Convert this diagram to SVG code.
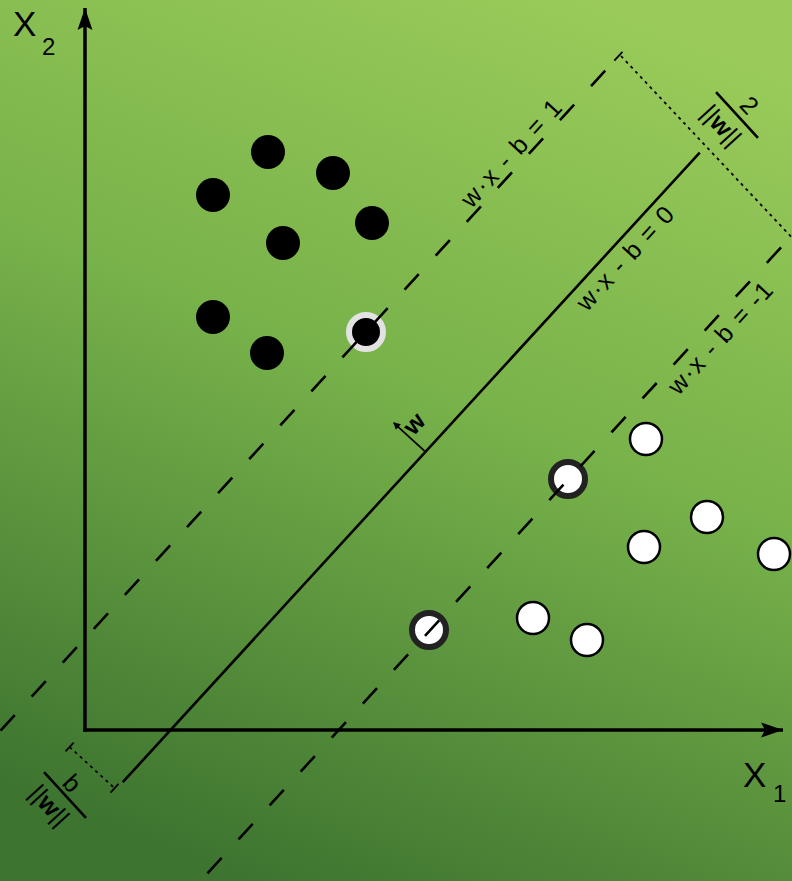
<svg xmlns="http://www.w3.org/2000/svg" width="792" height="881" viewBox="0 0 792 881">
<defs>
<linearGradient id="bg" gradientUnits="userSpaceOnUse" x1="600" y1="0" x2="250" y2="881">
<stop offset="0" stop-color="#9acb5a"/>
<stop offset="0.45" stop-color="#78b24a"/>
<stop offset="1" stop-color="#3d7430"/>
</linearGradient>
<marker id="axhead" markerUnits="userSpaceOnUse" markerWidth="30" markerHeight="20" refX="0" refY="0" viewBox="-24 -10 26 20" orient="auto">
<path d="M0,0 L-22,-7.5 L-18,0 L-22,7.5 Z" fill="#000"/>
</marker>
<marker id="whead" markerUnits="userSpaceOnUse" markerWidth="10" markerHeight="10" refX="0" refY="0" viewBox="-6 -4 7 8" orient="auto">
<path d="M0.5,0 L-5,-3 L-5,3 Z" fill="#000"/>
</marker>
</defs>
<style>
.axis{stroke:#000;stroke-width:3.5;fill:none}
.solid{stroke:#000;stroke-width:2.6;fill:none}
.dash{stroke:#000;stroke-width:2.6;stroke-dasharray:21 25;fill:none}
.dot{stroke:#000;stroke-width:1.8;stroke-dasharray:3 4;fill:none}
.tick{stroke:#000;stroke-width:1.8}
.bar{stroke:#000;stroke-width:2.6}
.txt{font-family:"Liberation Sans",Arial,sans-serif;fill:#000}
.lbl{font-size:25px}
.frac{font-size:25px}
.ax{font-size:35px}
.sub{font-size:24px}
.bdot{fill:#000}
.wdot{fill:#fff;stroke:#000;stroke-width:2.5}
.bsv{fill:#000;stroke:#e2e2e2;stroke-width:6}
.wsv{fill:#fff;stroke:#222;stroke-width:6}
</style>
<rect width="792" height="881" fill="url(#bg)"/>

<g id="axes">
<line class="axis" x1="85" y1="731.7" x2="85" y2="8" marker-end="url(#axhead)"/>
<line class="axis" x1="83.3" y1="730" x2="783" y2="730" marker-end="url(#axhead)"/>
<text class="txt ax" x="13" y="36">X</text>
<text class="txt sub" x="42" y="55">2</text>
<text class="txt ax" x="743" y="787">X</text>
<text class="txt sub" x="773" y="802">1</text>
</g>

<g id="class-black">
<circle class="bdot" cx="268" cy="152" r="17"/>
<circle class="bdot" cx="213" cy="195" r="17"/>
<circle class="bdot" cx="333" cy="173" r="17"/>
<circle class="bdot" cx="372" cy="223" r="17"/>
<circle class="bdot" cx="283" cy="243" r="17"/>
<circle class="bdot" cx="213" cy="317" r="17"/>
<circle class="bdot" cx="267" cy="353" r="17"/>
</g>
<g id="sv-black">
<circle class="bsv" cx="366" cy="332" r="17"/>
</g>

<g id="class-white">
<circle class="wdot" cx="646" cy="439" r="16"/>
<circle class="wdot" cx="707" cy="517" r="16"/>
<circle class="wdot" cx="644" cy="547" r="16"/>
<circle class="wdot" cx="774" cy="554" r="16"/>
<circle class="wdot" cx="533" cy="618" r="16"/>
<circle class="wdot" cx="587" cy="640" r="16"/>
</g>
<g id="sv-white">
<circle class="wsv" cx="568" cy="479" r="17"/>
<circle class="wsv" cx="429" cy="630" r="17"/>
</g>

<g id="connectors">
<g transform="translate(412,468) rotate(-47.5)">
<line class="solid" x1="-427" y1="-1" x2="427" y2="-1"/>
<line class="dash" x1="-471.5" y1="-126" x2="445" y2="-126"/>
<line class="dash" x1="-483" y1="123" x2="480" y2="123"/>
<line class="dot" x1="-437" y1="-64" x2="-437" y2="-3"/>
<line class="tick" x1="-443" y1="-64" x2="-431" y2="-64"/>
<line class="tick" x1="-443" y1="-3" x2="-431" y2="-3"/>
<line class="tick" x1="437" y1="-126" x2="449" y2="-126"/>
<line class="tick" x1="21" y1="-2" x2="21" y2="-44" stroke-width="1.2" marker-end="url(#whead)"/>
</g>
<line class="dot" x1="621" y1="56" x2="797" y2="243"/>
</g>

<g id="labels">
<g transform="translate(412,468) rotate(-47.5)">
<text class="txt lbl" x="231" y="-131" textLength="136" lengthAdjust="spacing">w·x - b = 1</text>
<text class="txt lbl" x="233" y="24" textLength="131" lengthAdjust="spacing">w·x - b = 0</text>
<text class="txt lbl" x="233" y="148" textLength="142" lengthAdjust="spacing">w·x - b = -1</text>
<text class="txt lbl" x="34" y="-20" text-anchor="middle" font-weight="bold">w</text>
</g>
</g>

<g id="margin-width">
<g transform="translate(737,115) rotate(47.5)">
<line class="bar" x1="-31" y1="0" x2="31" y2="0"/>
<text class="txt frac" x="1" y="-7" text-anchor="middle">2</text>
<text class="txt frac" x="-3" y="27" text-anchor="middle">||<tspan font-weight="bold">w</tspan>||</text>
</g>
</g>

<g id="offset">
<g transform="translate(65,795) rotate(47.5)">
<line class="bar" x1="-31" y1="0" x2="31" y2="0"/>
<text class="txt frac" x="-4" y="-4.5" text-anchor="middle">b</text>
<text class="txt frac" x="-3" y="27" text-anchor="middle">||<tspan font-weight="bold">w</tspan>||</text>
</g>
</g>
</svg>
